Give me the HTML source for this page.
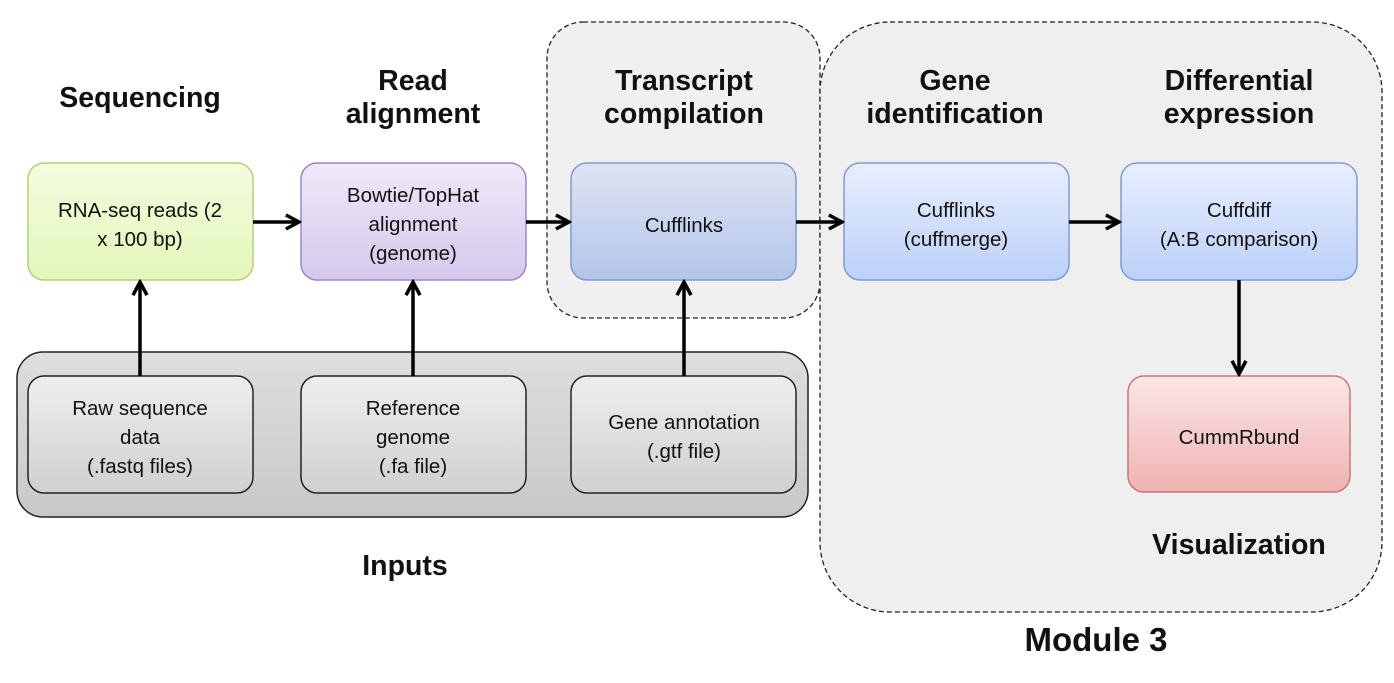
<!DOCTYPE html>
<html><head><meta charset="utf-8"><style>
body{margin:0;background:#fff;}
svg text{font-family:"Liberation Sans",sans-serif;}
.t{font-weight:bold;font-size:28.5px;fill:#111;text-anchor:middle}
.n{font-size:20.5px;fill:#111;text-anchor:middle}
</style></head><body>
<svg width="1394" height="678" xmlns="http://www.w3.org/2000/svg">
<defs>
<linearGradient id="g" x1="0" y1="0" x2="0" y2="1"><stop offset="0" stop-color="#f4fce0"/><stop offset="1" stop-color="#e3f7b8"/></linearGradient>
<linearGradient id="p" x1="0" y1="0" x2="0" y2="1"><stop offset="0" stop-color="#efe9f8"/><stop offset="1" stop-color="#d5c9ec"/></linearGradient>
<linearGradient id="b1" x1="0" y1="0" x2="0" y2="1"><stop offset="0" stop-color="#dfe4f2"/><stop offset="1" stop-color="#b3c5ea"/></linearGradient>
<linearGradient id="b2" x1="0" y1="0" x2="0" y2="1"><stop offset="0" stop-color="#e8effd"/><stop offset="1" stop-color="#bcd0f9"/></linearGradient>
<linearGradient id="r" x1="0" y1="0" x2="0" y2="1"><stop offset="0" stop-color="#fbe6e6"/><stop offset="1" stop-color="#efb3b3"/></linearGradient>
<linearGradient id="gr" x1="0" y1="0" x2="0" y2="1"><stop offset="0" stop-color="#eeeeee"/><stop offset="1" stop-color="#d0d0d0"/></linearGradient>
<linearGradient id="gi" x1="0" y1="0" x2="0" y2="1"><stop offset="0" stop-color="#dedede"/><stop offset="1" stop-color="#c8c8c8"/></linearGradient>
<marker id="a" viewBox="0 0 10 10" refX="8.5" refY="5" markerWidth="5" markerHeight="5" orient="auto"><path d="M1,1 L8.5,5 L1,9" fill="none" stroke="#000" stroke-width="2"/></marker>
</defs>
<rect x="547" y="22" width="273" height="296" rx="36" fill="#f0f0f0" stroke="#222" stroke-width="1.3" stroke-dasharray="5,3"/>
<rect x="820" y="22" width="562" height="590" rx="70" fill="#efefef" stroke="#222" stroke-width="1.3" stroke-dasharray="5,3"/>
<rect x="17" y="352" width="791" height="165" rx="26" fill="url(#gi)" stroke="#222" stroke-width="1.5"/>
<g stroke-width="1.5">
<rect x="28" y="163" width="225" height="117" rx="16" fill="url(#g)" stroke="#b7cf7c"/>
<rect x="301" y="163" width="225" height="117" rx="16" fill="url(#p)" stroke="#9c88c6"/>
<rect x="571" y="163" width="225" height="117" rx="16" fill="url(#b1)" stroke="#7f9bd2"/>
<rect x="844" y="163" width="225" height="117" rx="16" fill="url(#b2)" stroke="#7f9bd2"/>
<rect x="1121" y="163" width="236" height="117" rx="16" fill="url(#b2)" stroke="#7f9bd2"/>
<rect x="1128" y="376" width="222" height="116" rx="16" fill="url(#r)" stroke="#cc7777"/>
<rect x="28" y="376" width="225" height="117" rx="16" fill="url(#gr)" stroke="#222"/>
<rect x="301" y="376" width="225" height="117" rx="16" fill="url(#gr)" stroke="#222"/>
<rect x="571" y="376" width="225" height="117" rx="16" fill="url(#gr)" stroke="#222"/>
</g>
<g stroke="#000" stroke-width="3.5" fill="none" marker-end="url(#a)">
<line x1="253" y1="222" x2="299" y2="222"/>
<line x1="526" y1="222" x2="569" y2="222"/>
<line x1="796" y1="222" x2="842" y2="222"/>
<line x1="1069" y1="222" x2="1119" y2="222"/>
<line x1="140" y1="376" x2="140" y2="282"/>
<line x1="413" y1="376" x2="413" y2="282"/>
<line x1="684" y1="376" x2="684" y2="282"/>
<line x1="1239" y1="280" x2="1239" y2="374"/>
</g>
<text class="t" x="140" y="107">Sequencing</text>
<text class="t" x="413" y="90">Read</text><text class="t" x="413" y="123">alignment</text>
<text class="t" x="684" y="90">Transcript</text><text class="t" x="684" y="123">compilation</text>
<text class="t" x="955" y="90">Gene</text><text class="t" x="955" y="123">identification</text>
<text class="t" x="1239" y="90">Differential</text><text class="t" x="1239" y="123">expression</text>
<text class="t" x="405" y="575">Inputs</text>
<text class="t" x="1239" y="554">Visualization</text>
<text class="t" x="1096" y="651" style="font-size:33px">Module 3</text>
<text class="n" x="140" y="217">RNA-seq reads (2</text><text class="n" x="140" y="246">x 100 bp)</text>
<text class="n" x="413" y="202">Bowtie/TopHat</text><text class="n" x="413" y="231">alignment</text><text class="n" x="413" y="260">(genome)</text>
<text class="n" x="684" y="232">Cufflinks</text>
<text class="n" x="956" y="217">Cufflinks</text><text class="n" x="956" y="246">(cuffmerge)</text>
<text class="n" x="1239" y="217">Cuffdiff</text><text class="n" x="1239" y="246">(A:B comparison)</text>
<text class="n" x="1239" y="444">CummRbund</text>
<text class="n" x="140" y="415">Raw sequence</text><text class="n" x="140" y="444">data</text><text class="n" x="140" y="473">(.fastq files)</text>
<text class="n" x="413" y="415">Reference</text><text class="n" x="413" y="444">genome</text><text class="n" x="413" y="473">(.fa file)</text>
<text class="n" x="684" y="429">Gene annotation</text><text class="n" x="684" y="458">(.gtf file)</text>
</svg>
</body></html>
